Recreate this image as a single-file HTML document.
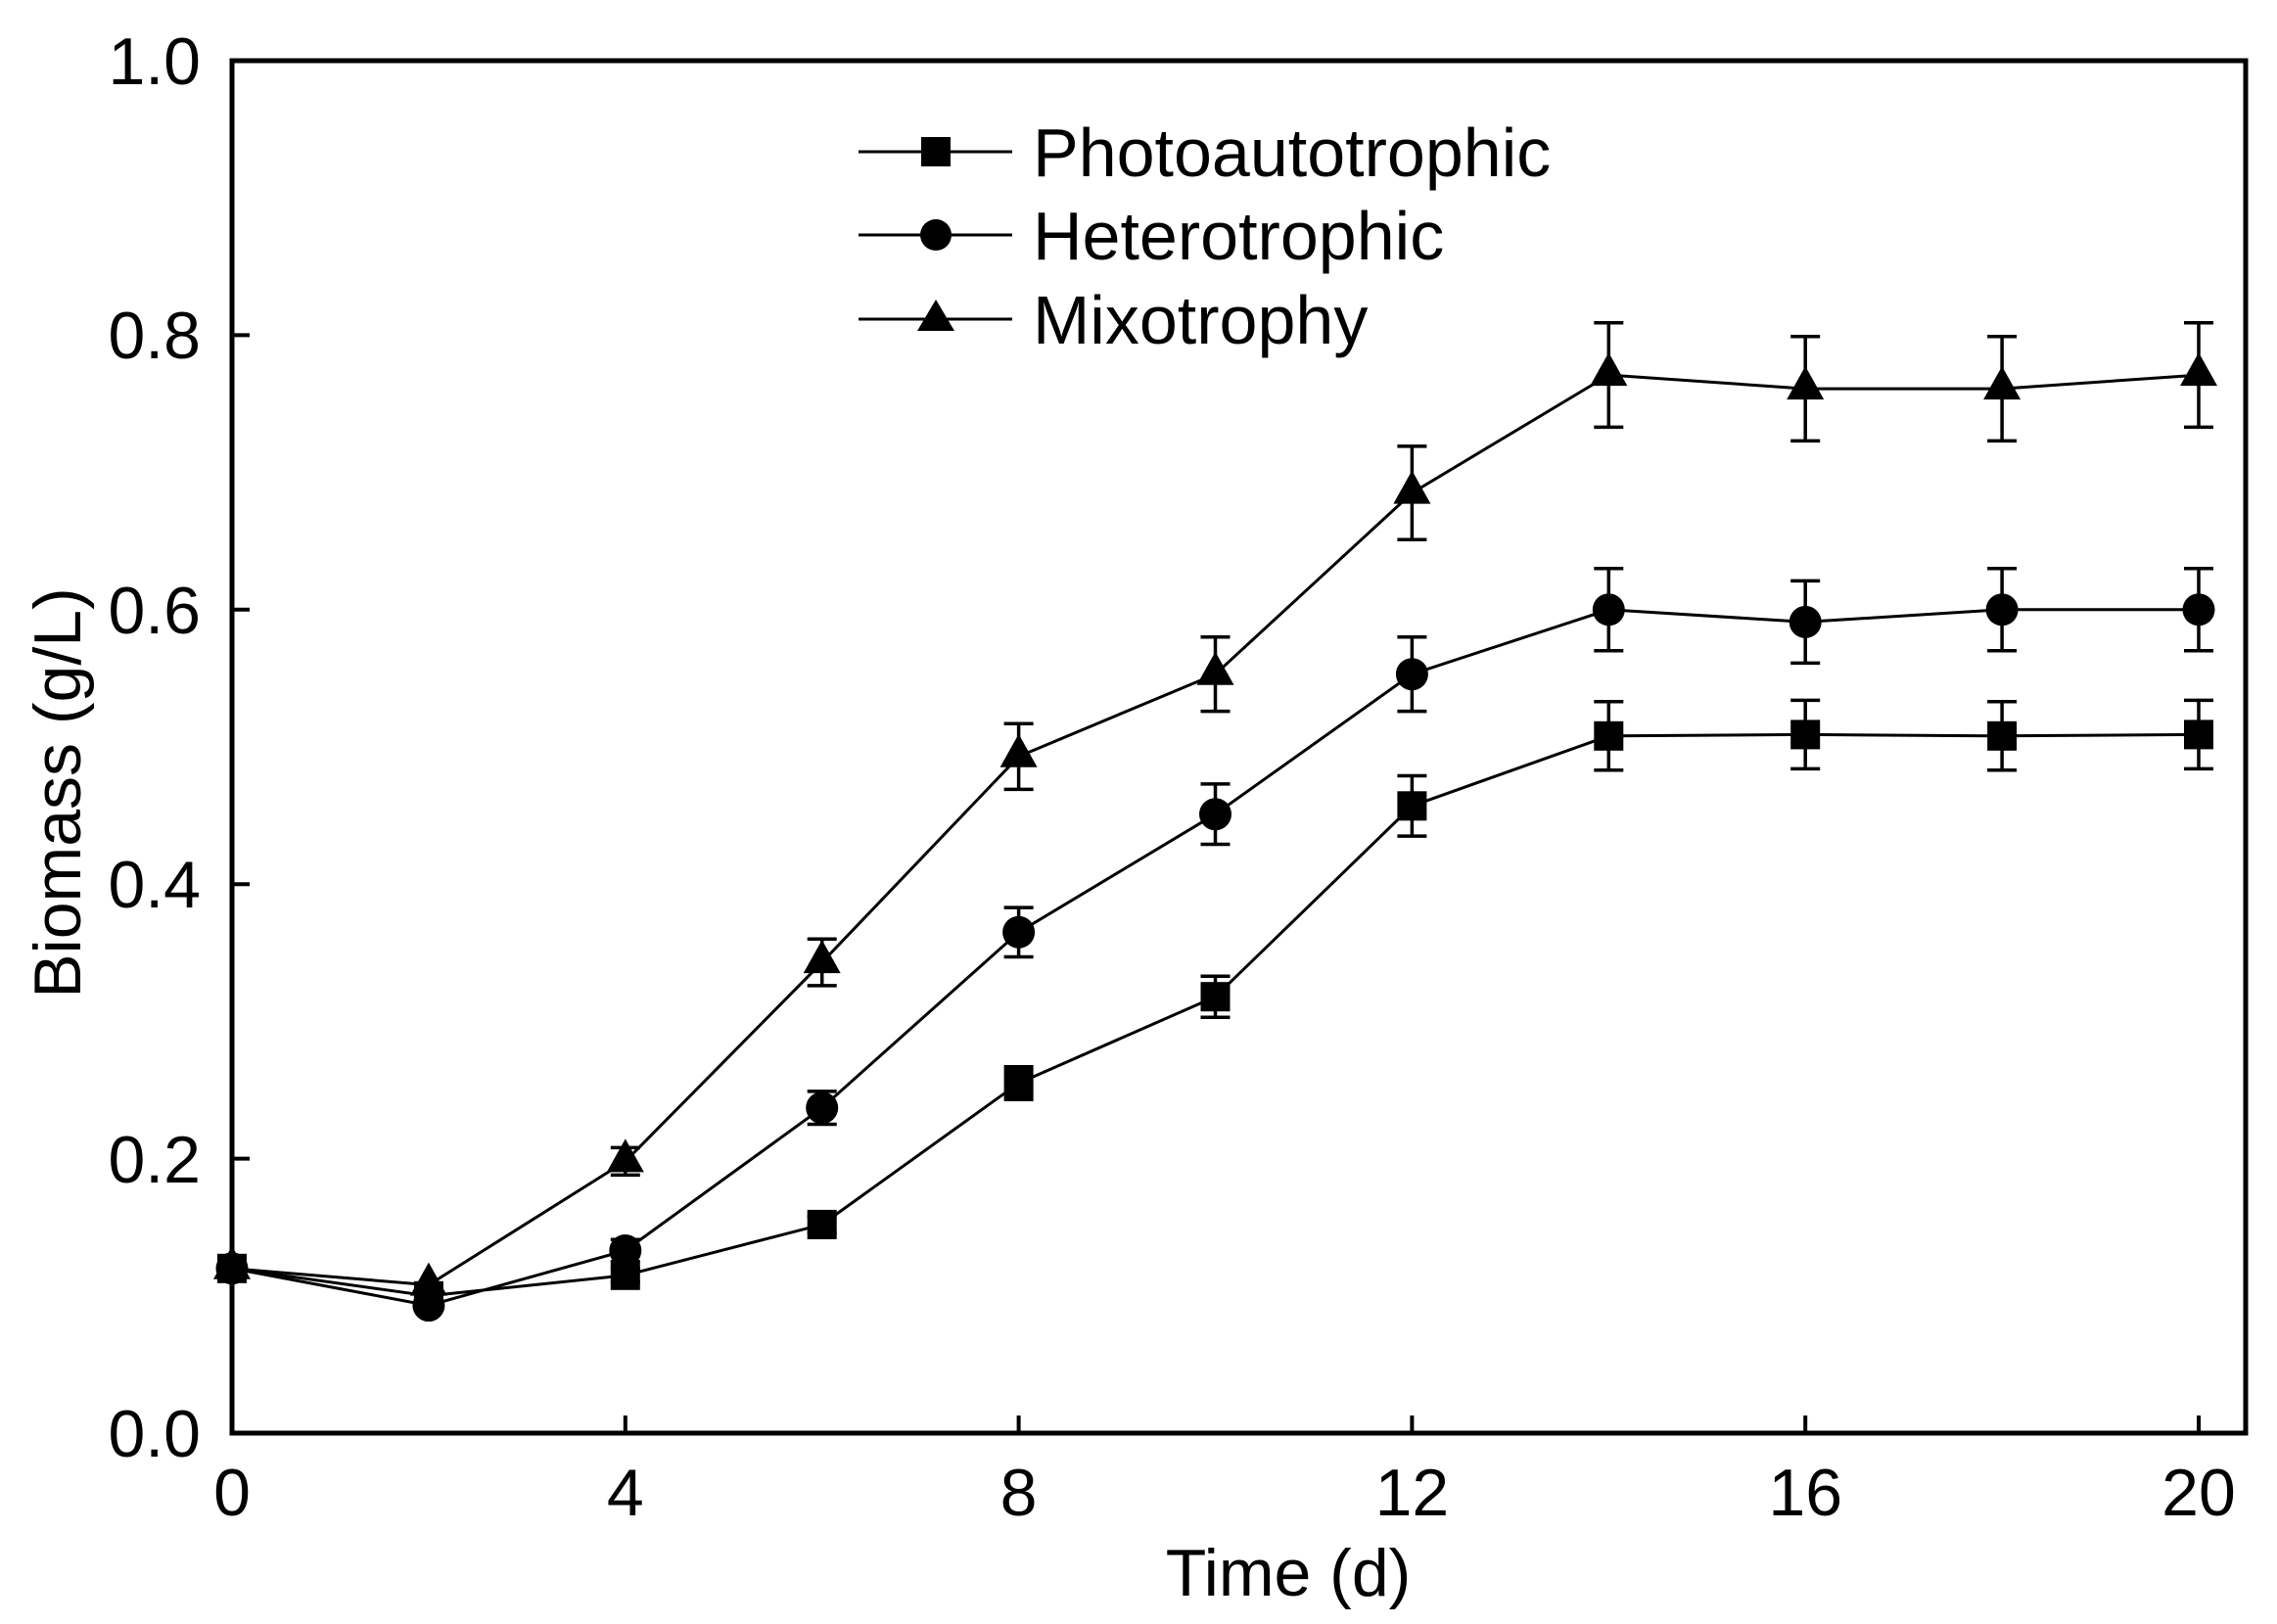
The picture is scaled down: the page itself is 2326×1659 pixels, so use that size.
<!DOCTYPE html>
<html><head><meta charset="utf-8"><style>
html,body{margin:0;padding:0;background:#fff;}
svg{display:block;}
text{font-family:"Liberation Sans",Arial,sans-serif;fill:#000;}
</style></head><body>
<svg width="2326" height="1659" viewBox="0 0 2326 1659" xmlns="http://www.w3.org/2000/svg">
<rect x="237" y="62" width="2057" height="1402" fill="none" stroke="#000" stroke-width="5"/>
<g stroke="#000" stroke-width="4">
<line x1="237" y1="1183.6" x2="255" y2="1183.6"/>
<line x1="237" y1="903.2" x2="255" y2="903.2"/>
<line x1="237" y1="622.8" x2="255" y2="622.8"/>
<line x1="237" y1="342.4" x2="255" y2="342.4"/>
<line x1="638.8" y1="1464" x2="638.8" y2="1446"/>
<line x1="1040.6" y1="1464" x2="1040.6" y2="1446"/>
<line x1="1442.4" y1="1464" x2="1442.4" y2="1446"/>
<line x1="1844.2" y1="1464" x2="1844.2" y2="1446"/>
<line x1="2246" y1="1464" x2="2246" y2="1446"/>
</g>
<g font-size="68" text-anchor="end">
<text x="205" y="1488">0.0</text>
<text x="205" y="1208">0.2</text>
<text x="205" y="927">0.4</text>
<text x="205" y="647">0.6</text>
<text x="205" y="366">0.8</text>
<text x="205" y="86">1.0</text>
</g>
<g font-size="68" text-anchor="middle">
<text x="237" y="1548">0</text>
<text x="638.8" y="1548">4</text>
<text x="1040.6" y="1548">8</text>
<text x="1442.4" y="1548">12</text>
<text x="1844.2" y="1548">16</text>
<text x="2246" y="1548">20</text>
</g>
<text x="1316" y="1630" font-size="68" text-anchor="middle">Time (d)</text>
<text transform="translate(82,810) rotate(-90)" font-size="68" text-anchor="middle">Biomass (g/L)</text>
<g stroke="#000" stroke-width="3">
<line x1="877" y1="155" x2="1034" y2="155"/>
<line x1="877" y1="240" x2="1034" y2="240"/>
<line x1="877" y1="326" x2="1034" y2="326"/>
</g>
<rect x="941" y="140" width="30" height="30" fill="#000"/>
<circle cx="956" cy="240" r="16" fill="#000"/>
<polygon points="956,306 975,338 937,338" fill="#000"/>
<g font-size="70">
<text x="1055" y="180">Photoautotrophic</text>
<text x="1055" y="265">Heterotrophic</text>
<text x="1055" y="351">Mixotrophy</text>
</g>

<g fill="none" stroke="#000" stroke-width="3">
<polyline points="237,1295.8 437.9,1323.8 638.8,1302.8 839.7,1250.9 1040.6,1106.5 1241.5,1018.2 1442.4,823.3 1643.3,751.8 1844.2,750.4 2045.1,751.8 2246,750.4"/>
<polyline points="237,1295.8 437.9,1333.6 638.8,1277.5 839.7,1131.7 1040.6,952.3 1241.5,831.7 1442.4,688.7 1643.3,622.8 1844.2,635.4 2045.1,622.8 2246,622.8"/>
<polyline points="237,1295.8 437.9,1312.6 638.8,1186.4 839.7,983.1 1040.6,772.8 1241.5,688.7 1442.4,503.6 1643.3,383.1 1844.2,397.1 2045.1,397.1 2246,383.1"/>
</g>

<g fill="none" stroke="#000" stroke-width="3.5">
<path d="M638.8 1295.8V1309.8M623.8 1295.8H653.8M623.8 1309.8H653.8"/>
<path d="M839.7 1242.5V1259.3M824.7 1242.5H854.7M824.7 1259.3H854.7"/>
<path d="M1040.6 1089.7V1123.3M1025.6 1089.7H1055.6M1025.6 1123.3H1055.6"/>
<path d="M1241.5 997.2V1039.2M1226.5 997.2H1256.5M1226.5 1039.2H1256.5"/>
<path d="M1442.4 792.5V854.1M1427.4 792.5H1457.4M1427.4 854.1H1457.4"/>
<path d="M1643.3 716.8V786.8M1628.3 716.8H1658.3M1628.3 786.8H1658.3"/>
<path d="M1844.2 715.4V785.4M1829.2 715.4H1859.2M1829.2 785.4H1859.2"/>
<path d="M2045.1 716.8V786.8M2030.1 716.8H2060.1M2030.1 786.8H2060.1"/>
<path d="M2246 715.4V785.4M2231 715.4H2261M2231 785.4H2261"/>
<path d="M638.8 1266.3V1288.7M623.8 1266.3H653.8M623.8 1288.7H653.8"/>
<path d="M839.7 1114.9V1148.5M824.7 1114.9H854.7M824.7 1148.5H854.7"/>
<path d="M1040.6 927.1V977.5M1025.6 927.1H1055.6M1025.6 977.5H1055.6"/>
<path d="M1241.5 800.9V862.5M1226.5 800.9H1256.5M1226.5 862.5H1256.5"/>
<path d="M1442.4 650.8V726.6M1427.4 650.8H1457.4M1427.4 726.6H1457.4"/>
<path d="M1643.3 580.8V664.8M1628.3 580.8H1658.3M1628.3 664.8H1658.3"/>
<path d="M1844.2 593.4V677.4M1829.2 593.4H1859.2M1829.2 677.4H1859.2"/>
<path d="M2045.1 580.8V664.8M2030.1 580.8H2060.1M2030.1 664.8H2060.1"/>
<path d="M2246 580.8V664.8M2231 580.8H2261M2231 664.8H2261"/>
<path d="M638.8 1172.4V1200.4M623.8 1172.4H653.8M623.8 1200.4H653.8"/>
<path d="M839.7 959.3V1006.9M824.7 959.3H854.7M824.7 1006.9H854.7"/>
<path d="M1040.6 739.2V806.4M1025.6 739.2H1055.6M1025.6 806.4H1055.6"/>
<path d="M1241.5 650.8V726.6M1226.5 650.8H1256.5M1226.5 726.6H1256.5"/>
<path d="M1442.4 455.9V551.3M1427.4 455.9H1457.4M1427.4 551.3H1457.4"/>
<path d="M1643.3 329.8V436.4M1628.3 329.8H1658.3M1628.3 436.4H1658.3"/>
<path d="M1844.2 343.8V450.4M1829.2 343.8H1859.2M1829.2 450.4H1859.2"/>
<path d="M2045.1 343.8V450.4M2030.1 343.8H2060.1M2030.1 450.4H2060.1"/>
<path d="M2246 329.8V436.4M2231 329.8H2261M2231 436.4H2261"/>
</g>

<g fill="#000">
<rect x="222" y="1280.8" width="30" height="30"/>
<rect x="422.9" y="1308.8" width="30" height="30"/>
<rect x="623.8" y="1287.8" width="30" height="30"/>
<rect x="824.7" y="1235.9" width="30" height="30"/>
<rect x="1025.6" y="1091.5" width="30" height="30"/>
<rect x="1226.5" y="1003.2" width="30" height="30"/>
<rect x="1427.4" y="808.3" width="30" height="30"/>
<rect x="1628.3" y="736.8" width="30" height="30"/>
<rect x="1829.2" y="735.4" width="30" height="30"/>
<rect x="2030.1" y="736.8" width="30" height="30"/>
<rect x="2231" y="735.4" width="30" height="30"/>

<circle cx="237" cy="1295.8" r="16.5"/>
<circle cx="437.9" cy="1333.6" r="16.5"/>
<circle cx="638.8" cy="1277.5" r="16.5"/>
<circle cx="839.7" cy="1131.7" r="16.5"/>
<circle cx="1040.6" cy="952.3" r="16.5"/>
<circle cx="1241.5" cy="831.7" r="16.5"/>
<circle cx="1442.4" cy="688.7" r="16.5"/>
<circle cx="1643.3" cy="622.8" r="16.5"/>
<circle cx="1844.2" cy="635.4" r="16.5"/>
<circle cx="2045.1" cy="622.8" r="16.5"/>
<circle cx="2246" cy="622.8" r="16.5"/>

<polygon points="237,1272.8 256,1306.8 218,1306.8"/>
<polygon points="437.9,1289.6 456.9,1323.6 418.9,1323.6"/>
<polygon points="638.8,1163.4 657.8,1197.4 619.8,1197.4"/>
<polygon points="839.7,960.1 858.7,994.1 820.7,994.1"/>
<polygon points="1040.6,749.8 1059.6,783.8 1021.6,783.8"/>
<polygon points="1241.5,665.7 1260.5,699.7 1222.5,699.7"/>
<polygon points="1442.4,480.6 1461.4,514.6 1423.4,514.6"/>
<polygon points="1643.3,360.1 1662.3,394.1 1624.3,394.1"/>
<polygon points="1844.2,374.1 1863.2,408.1 1825.2,408.1"/>
<polygon points="2045.1,374.1 2064.1,408.1 2026.1,408.1"/>
<polygon points="2246,360.1 2265,394.1 2227,394.1"/>
</g>
</svg>
</body></html>
